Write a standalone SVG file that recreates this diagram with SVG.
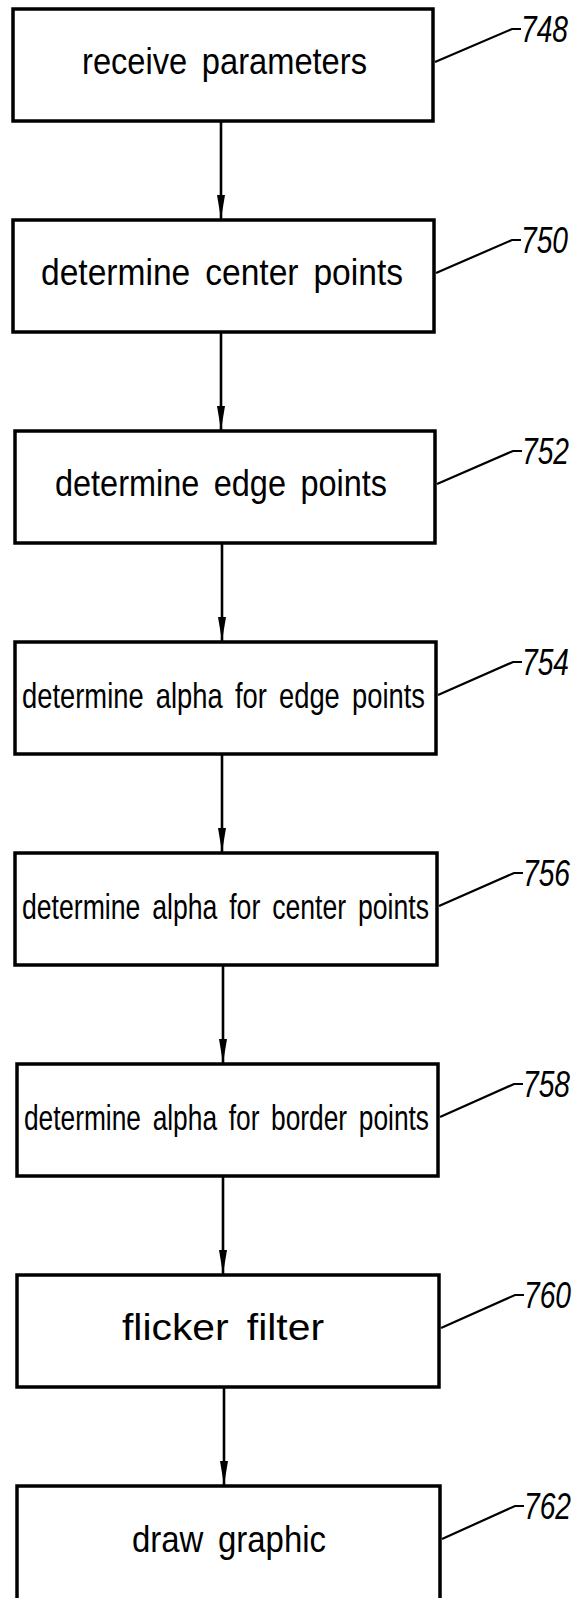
<svg xmlns="http://www.w3.org/2000/svg" width="584" height="1598" viewBox="0 0 584 1598">
<style>
  .box { fill: #ffffff; stroke: #000000; stroke-width: 3.5; }
  .txt { font-family: "Liberation Sans", Arial, sans-serif; font-size: 36px; fill: #000000; text-anchor: middle; word-spacing: 6px; }
  .ref { font-family: "Liberation Sans", Arial, sans-serif; font-size: 37px; font-style: italic; fill: #000000; }
  .lead { fill: none; stroke: #000000; stroke-width: 2.2; }
  .arrow { fill: none; stroke: #000000; stroke-width: 2.6; marker-end: url(#ah); }
</style>
<defs>
  <marker id="ah" markerUnits="userSpaceOnUse" viewBox="0 0 24 9" refX="24" refY="4.5" markerWidth="24" markerHeight="9" orient="auto">
    <path d="M0,0.5 L24,4.5 L0,8.5 z" fill="#000000"/>
  </marker>
</defs>
<rect width="584" height="1598" fill="#ffffff"/>

<g id="connectors">
  <line class="arrow" x1="221" y1="121" x2="221" y2="219"/>
  <line class="arrow" x1="221" y1="332" x2="221" y2="430"/>
  <line class="arrow" x1="222" y1="543" x2="222" y2="641"/>
  <line class="arrow" x1="222" y1="754" x2="222" y2="852"/>
  <line class="arrow" x1="223" y1="965" x2="223" y2="1063"/>
  <line class="arrow" x1="223" y1="1176" x2="223" y2="1274"/>
  <line class="arrow" x1="224" y1="1387" x2="224" y2="1485"/>
</g>

<g id="n748">
  <rect class="box" x="13" y="9" width="420" height="112"/>
  <text class="txt" x="224.5" y="74" textLength="285" lengthAdjust="spacingAndGlyphs">receive parameters</text>
  <polyline class="lead" points="435,62 512,29 521,29"/>
  <text class="ref" x="521" y="42" textLength="47" lengthAdjust="spacingAndGlyphs">748</text>
</g>

<g id="n750">
  <rect class="box" x="13" y="220" width="421" height="112"/>
  <text class="txt" x="222" y="285" textLength="362" lengthAdjust="spacingAndGlyphs">determine center points</text>
  <polyline class="lead" points="436,273 512,240 521,240"/>
  <text class="ref" x="521" y="253" textLength="47" lengthAdjust="spacingAndGlyphs">750</text>
</g>

<g id="n752">
  <rect class="box" x="15" y="431" width="420" height="112"/>
  <text class="txt" x="221" y="496" textLength="332" lengthAdjust="spacingAndGlyphs">determine edge points</text>
  <polyline class="lead" points="437,484 513,451 522,451"/>
  <text class="ref" x="522" y="464" textLength="47" lengthAdjust="spacingAndGlyphs">752</text>
</g>

<g id="n754">
  <rect class="box" x="15" y="642" width="421" height="112"/>
  <text class="txt" transform="translate(223.5,708) scale(0.76,1)" x="0" y="0">determine alpha for edge points</text>
  <polyline class="lead" points="438,695 513,662 522,662"/>
  <text class="ref" x="522" y="675" textLength="47" lengthAdjust="spacingAndGlyphs">754</text>
</g>

<g id="n756">
  <rect class="box" x="15" y="853" width="422" height="112"/>
  <text class="txt" transform="translate(225.5,919) scale(0.74,1)" x="0" y="0">determine alpha for center points</text>
  <polyline class="lead" points="439,906 514,873 523,873"/>
  <text class="ref" x="523" y="886" textLength="47" lengthAdjust="spacingAndGlyphs">756</text>
</g>

<g id="n758">
  <rect class="box" x="17" y="1064" width="421" height="112"/>
  <text class="txt" transform="translate(226.5,1130) scale(0.731,1)" x="0" y="0">determine alpha for border points</text>
  <polyline class="lead" points="440,1117 514,1084 523,1084"/>
  <text class="ref" x="523" y="1097" textLength="47" lengthAdjust="spacingAndGlyphs">758</text>
</g>

<g id="n760">
  <rect class="box" x="17" y="1275" width="422" height="112"/>
  <text class="txt" x="223" y="1340" textLength="202" lengthAdjust="spacingAndGlyphs">flicker filter</text>
  <polyline class="lead" points="441,1328 515,1295 524,1295"/>
  <text class="ref" x="524" y="1308" textLength="47" lengthAdjust="spacingAndGlyphs">760</text>
</g>

<g id="n762">
  <rect class="box" x="17" y="1486" width="423" height="140"/>
  <text class="txt" x="229" y="1552" textLength="194" lengthAdjust="spacingAndGlyphs">draw graphic</text>
  <polyline class="lead" points="442,1539 515,1506 524,1506"/>
  <text class="ref" x="524" y="1519" textLength="47" lengthAdjust="spacingAndGlyphs">762</text>
</g>
</svg>
